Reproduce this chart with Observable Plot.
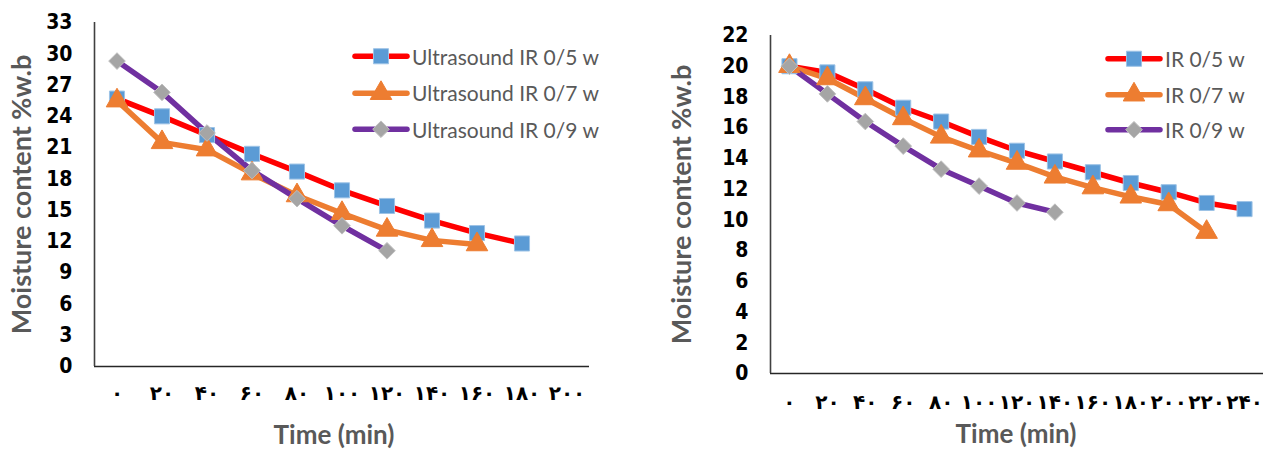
<!DOCTYPE html>
<html><head><meta charset="utf-8">
<script src="https://cdn.jsdelivr.net/npm/d3@7"></script>
<script src="https://cdn.jsdelivr.net/npm/@observablehq/plot@0.6"></script>
<style>
body{margin:0;background:#fff;}
#wrap{display:flex;width:1263px;height:451px;overflow:hidden;}
.panel{position:relative;}
.legend{position:absolute;font-family:Lato, "Open Sans", sans-serif;font-size:21px;color:#595959;}
.legend .row{display:flex;align-items:center;white-space:nowrap;}
.legend svg{margin-right:2px;}
</style></head><body>
<div id="wrap"><div class="panel" id="left"></div><div class="panel" id="right"></div></div>
<script>
// ---------- data ----------
const timeTicksLeft = [0,20,40,60,80,100,120,140,160,180,200];
const timeLabelsLeft = ["۰","۲۰","۴۰","۶۰","۸۰","۱۰۰","۱۲۰","۱۴۰","۱۶۰","۱۸۰","۲۰۰"];
const moistureTicksLeft = [0,3,6,9,12,15,18,21,24,27,30,33];

const usTime05 = [0,20,40,60,80,100,120,140,160,180];
const usValues05 = [25.7,24.0,22.2,20.4,18.7,16.9,15.4,14.0,12.8,11.8];
const usTime07 = [0,20,40,60,80,100,120,140,160];
const usValues07 = [25.5,21.5,20.8,18.5,16.4,14.7,13.1,12.1,11.7];
const usTime09 = [0,20,40,60,80,100,120];
const usValues09 = [29.3,26.3,22.4,18.8,16.1,13.5,11.1];
const seriesNamesLeft = ["Ultrasound IR 0/5 w","Ultrasound IR 0/7 w","Ultrasound IR 0/9 w"];

const timeTicksRight = [0,20,40,60,80,100,120,140,160,180,200,220,240];
const timeLabelsRight = ["۰","۲۰","۴۰","۶۰","۸۰","۱۰۰","۱۲۰","۱۴۰","۱۶۰","۱۸۰","۲۰۰","۲۲۰","۲۴۰"];
const moistureTicksRight = [0,2,4,6,8,10,12,14,16,18,20,22];

const irTime05 = [0,20,40,60,80,100,120,140,160,180,200,220,240];
const irValues05 = [20.0,19.6,18.5,17.3,16.4,15.4,14.5,13.8,13.1,12.4,11.8,11.1,10.7];
const irTime07 = [0,20,40,60,80,100,120,140,160,180,200,220];
const irValues07 = [20.0,19.2,17.9,16.6,15.4,14.5,13.7,12.8,12.1,11.5,11.0,9.2];
const irTime09 = [0,20,40,60,80,100,120,140];
const irValues09 = [20.0,18.2,16.4,14.8,13.3,12.2,11.1,10.5];
const seriesNamesRight = ["IR 0/5 w","IR 0/7 w","IR 0/9 w"];

// ---------- styles ----------
const lineColors = ["#FF0000","#ED7D31","#7030A0"];
const markerFills = ["#5B9BD5","#ED7D31","#A5A5A5"];
const markerStrokes = ["#9DC3E6","#ED7D31","#BFBFBF"];
const markerSymbols = ["square","triangle","diamond2"];
const markerR = [8.5,8,7.5];

function makeChart(o) {
  const marks = [
    Plot.ruleY([0], {stroke:"#262626", strokeWidth:1.6}),
    Plot.ruleX([o.xDomain[0]], {stroke:"#404040", strokeWidth:1.6}),
    Plot.axisY({ticks:o.yTicks, tickSize:0, tickPadding:o.yPad, label:null,
      fontSize:21, fontWeight:"bold", fontFamily:"'DejaVu Sans Condensed','DejaVu Sans',sans-serif", fill:"#000",
      stroke:"#000", strokeWidth:0.4}),
    Plot.axisX({ticks:o.xTicks, tickSize:0, tickPadding:o.xPad, label:null,
      tickFormat:(d)=>o.xLabels[o.xTicks.indexOf(d)],
      fontSize:20, fontWeight:"bold", fontFamily:"'DejaVu Sans',sans-serif", fill:"#000",
      stroke:"#000", strokeWidth:0.9}),
    Plot.text(["Moisture content %w.b"], {frameAnchor:"left", rotate:-90, dx:-o.yTitleOff,
      textAnchor:"middle", lineAnchor:"middle",
      fontSize:27, fontWeight:"bold", fill:"#595959", fontFamily:"Lato,sans-serif"}),
    Plot.text(["Time (min)"], {frameAnchor:"bottom", dy:o.xTitleOff, dx:o.xTitleDx, textAnchor:"middle", lineAnchor:"middle",
      fontSize:26, fontWeight:"bold", fill:"#595959", fontFamily:"Lato,sans-serif"})
  ];
  o.series.forEach((s, i) => {
    const data = s.t.map((t, j) => ({t, v: s.v[j]}));
    marks.push(Plot.line(data, {x:"t", y:"v", stroke:lineColors[i], strokeWidth:5.5, strokeLinejoin:"round", strokeLinecap:"round"}));
  });
  o.series.forEach((s, i) => {
    const data = s.t.map((t, j) => ({t, v: s.v[j]}));
    marks.push(Plot.dot(data, {x:"t", y:"v", symbol:markerSymbols[i], r:markerR[i], fill:markerFills[i], stroke:markerStrokes[i], strokeWidth:1}));
  });
  return Plot.plot({
    width:o.width, height:451,
    marginLeft:o.ml, marginRight:o.mr, marginTop:o.mt, marginBottom:o.mb,
    style:{background:"#fff", overflow:"visible"},
    x:{domain:o.xDomain},
    y:{domain:o.yDomain},
    marks
  });
}

function makeLegend(names, left, top, rowH) {
  const div = document.createElement("div");
  div.className = "legend";
  div.style.left = left + "px";
  div.style.top = top + "px";
  names.forEach((n, i) => {
    const row = document.createElement("div");
    row.className = "row";
    row.style.height = rowH + "px";
    const sw = d3.create("svg").attr("width", 58).attr("height", rowH);
    sw.append("line").attr("x1", 3).attr("x2", 55).attr("y1", rowH/2).attr("y2", rowH/2)
      .attr("stroke", lineColors[i]).attr("stroke-width", 5.5).attr("stroke-linecap", "round");
    const sym = {square:d3.symbolSquare, triangle:d3.symbolTriangle, diamond2:d3.symbolDiamond2}[markerSymbols[i]];
    sw.append("path").attr("transform", `translate(29,${rowH/2})`)
      .attr("d", d3.symbol(sym, markerR[i]*markerR[i]*Math.PI)())
      .attr("fill", markerFills[i]).attr("stroke", markerStrokes[i]);
    row.appendChild(sw.node());
    const span = document.createElement("span");
    span.textContent = n;
    row.appendChild(span);
    div.appendChild(row);
  });
  return div;
}

const left = document.getElementById("left");
left.appendChild(makeChart({
  width:631, ml:94, mr:42, mt:22, mb:85,
  xDomain:[-10,210], yDomain:[0,33], xTicks:timeTicksLeft, xLabels:timeLabelsLeft, yTicks:moistureTicksLeft,
  yPad:22, xPad:19, yTitleOff:72, xTitleOff:69, xTitleDx:-8,
  series:[{t:usTime05, v:usValues05},{t:usTime07, v:usValues07},{t:usTime09, v:usValues09}]
}));
left.appendChild(makeLegend(seriesNamesLeft, 352, 38, 36.5));

const right = document.getElementById("right");
right.appendChild(makeChart({
  width:632, ml:139, mr:0, mt:35, mb:78,
  xDomain:[-10,250], yDomain:[0,22], xTicks:timeTicksRight, xLabels:timeLabelsRight, yTicks:moistureTicksRight,
  yPad:22, xPad:21, yTitleOff:88, xTitleOff:61, xTitleDx:-1,
  series:[{t:irTime05, v:irValues05},{t:irTime07, v:irValues07},{t:irTime09, v:irValues09}]
}));
right.appendChild(makeLegend(seriesNamesRight, 474, 41, 35.5));
</script>
</body></html>
